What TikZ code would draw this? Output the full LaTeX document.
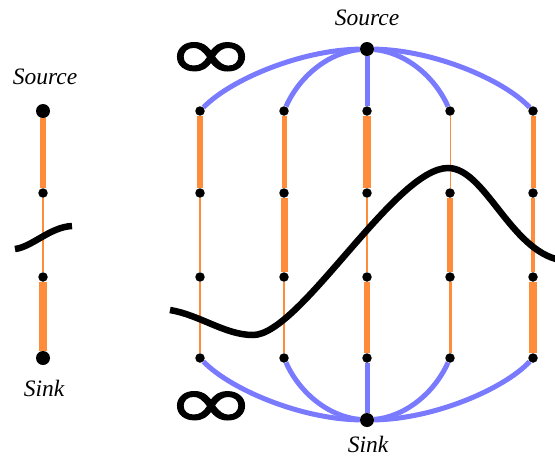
\documentclass[tikz,border=0pt]{standalone}
\usepackage{fontspec}
\setmainfont{Liberation Serif}
\newfontfamily\inffont{DejaVu Sans}[FakeBold=1.3]
\usepackage{graphicx}
\definecolor{edgeorange}{RGB}{255,140,58}
\definecolor{edgeblue}{RGB}{122,122,255}
\begin{document}
\begin{tikzpicture}[x=1pt,y=-1pt,
  big/.style={circle,fill=black,inner sep=0pt,minimum size=14pt},
  small/.style={circle,fill=black,inner sep=0pt,minimum size=9.5pt},
  lbl/.style={font=\fontsize{23.5}{27}\selectfont\itshape,inner sep=0pt},
  flow/.style={draw=edgeorange,line width=#1},
  blueedge/.style={draw=edgeblue,line width=5pt},
  cutline/.style={draw=black,line width=6.5pt},
  inf/.style={font=\inffont\fontsize{76}{76}\selectfont,inner sep=0pt}
]
\useasboundingbox (0,0) rectangle (555,459);

% left chain
\node[big] (ls) at (43,111) {};
\node[small] (l1) at (43,193) {};
\node[small] (l2) at (43,277) {};
\node[big] (lt) at (43,358) {};
\node[lbl] (lsl) at (45,77) {Source};
\node[lbl] (ltl) at (44,388) {Sink};
\draw[flow=6pt] (ls) -- (l1);
\draw[flow=1.8pt] (l1) -- (l2);
\draw[flow=8pt] (l2) -- (lt);

% grid
\node[big] (S) at (367,49) {};
\node[big] (T) at (367,420) {};
\node[lbl] (Sl) at (367,18) {Source};
\node[lbl] (Tl) at (368,444) {Sink};
\foreach \c/\x in {1/200,2/284,3/367,4/450,5/533}{
  \foreach \r/\y in {1/111,2/193,3/277,4/358}{
    \node[small] (c\c r\r) at (\x,\y) {};
  }
}

% blue edges
\draw[blueedge] (S) .. controls (300,50) and (230,80) .. (c1r1);
\draw[blueedge] (S) .. controls (330,52) and (300,75) .. (c2r1);
\draw[blueedge] (S) -- (c3r1);
\draw[blueedge] (S) .. controls (404,52) and (434,75) .. (c4r1);
\draw[blueedge] (S) .. controls (434,50) and (504,80) .. (c5r1);
\draw[blueedge] (T) .. controls (300,419) and (230,389) .. (c1r4);
\draw[blueedge] (T) .. controls (330,417) and (300,394) .. (c2r4);
\draw[blueedge] (T) -- (c3r4);
\draw[blueedge] (T) .. controls (404,417) and (434,394) .. (c4r4);
\draw[blueedge] (T) .. controls (434,419) and (504,389) .. (c5r4);

% orange edges
\draw[flow=6pt] (c1r1) -- (c1r2);
\draw[flow=1.5pt] (c1r2) -- (c1r3);
\draw[flow=1.2pt] (c1r3) -- (c1r4);
\draw[flow=5pt] (c2r1) -- (c2r2);
\draw[flow=7pt] (c2r2) -- (c2r3);
\draw[flow=2pt] (c2r3) -- (c2r4);
\draw[flow=8pt] (c3r1) -- (c3r2);
\draw[flow=2pt] (c3r2) -- (c3r3);
\draw[flow=6pt] (c3r3) -- (c3r4);
\draw[flow=1pt] (c4r1) -- (c4r2);
\draw[flow=6pt] (c4r2) -- (c4r3);
\draw[flow=3pt] (c4r3) -- (c4r4);
\draw[flow=5pt] (c5r1) -- (c5r2);
\draw[flow=3.5pt] (c5r2) -- (c5r3);
\draw[flow=7.5pt] (c5r3) -- (c5r4);

% cuts
\draw[cutline] (15,249) .. controls (32,247) and (50,227) .. (72,226);
\draw[cutline] (170,310) .. controls (200,315) and (225,335) .. (253,335)
  .. controls (300,335) and (395,168) .. (448,168)
  .. controls (485,168) and (510,250) .. (560,260);

% infinity
\node[inf] (i1) at (211,61) {\scalebox{1.42}[1]{∞}};
\node[inf] (i2) at (211,410) {\scalebox{1.42}[1]{∞}};
\end{tikzpicture}
\end{document}
